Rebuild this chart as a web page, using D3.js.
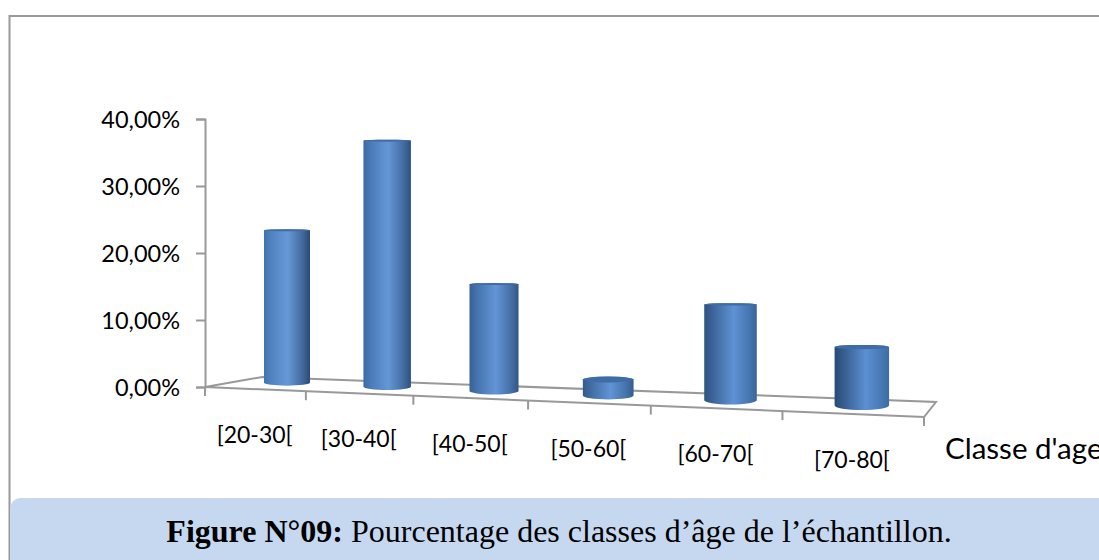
<!DOCTYPE html>
<html><head><meta charset="utf-8">
<script src="https://cdn.jsdelivr.net/npm/d3@7/dist/d3.min.js"></script>
<style>html,body{margin:0;padding:0;background:#fff;overflow:hidden}svg{display:block}</style>
</head><body><svg id="c" width="1099" height="560"></svg>
<script>
const categories = ["[20-30[","[30-40[","[40-50[","[50-60[","[60-70[","[70-80["];
const percentages = [23.3, 36.4, 15.3, 2.2, 12.8, 7.5];
const yTicks = [0, 10, 20, 30, 40];
const axisTitle = "Classe d'age";
const captionBold = "Figure N°09:";
const captionText = " Pourcentage des classes d’âge de l’échantillon.";

const svg = d3.select("#c");
const W = 1099, H = 560, GREY = "#999999";
const locale = d3.formatLocale({decimal:",",thousands:" ",grouping:[3],currency:["","€"]});
const fmt = v => locale.format(".2f")(v) + "%";

// outer frame and caption panel
svg.append("path").attr("d", `M${W+2},16 H9.5 V${H}`).attr("fill","none").attr("stroke",GREY).attr("stroke-width",2);
svg.append("rect").attr("x",10).attr("y",498).attr("width",W).attr("height",80).attr("rx",11).attr("fill","#c5d8f0");
svg.append("text").attr("x",559).attr("y",542).attr("text-anchor","middle")
  .style("font-family","'Liberation Serif',serif").style("font-size","32px").attr("fill","#000")
  .call(t=>{t.append("tspan").attr("font-weight","bold").text(captionBold);t.append("tspan").text(captionText);});

// floor in perspective: front edge and back edge, depth v in 0..1
const BEND = 0.184;
const FL=[205,387], FR=[924,417], BL=[262,377], BR=[936,402];
const band = d3.scaleBand().domain(categories).range([0,1]);
const tOf = u => u*(1-BEND)/(1-BEND*u);
const depth = u => 1/(1-BEND*u);
function floor(u,v){
  const t=tOf(u);
  const fx=FL[0]+(FR[0]-FL[0])*t, fy=FL[1]+(FR[1]-FL[1])*t;
  const bx=BL[0]+(BR[0]-BL[0])*t, by=BL[1]+(BR[1]-BL[1])*t;
  return [fx+(bx-fx)*v, fy+(by-fy)*v];
}
const wallY = d3.scaleLinear().domain([0,40]).range([387,119]);
const barH = d3.scaleLinear().domain([0,40]).range([0,258]);
const BAR_V = 0.6;

// y axis
const gy = svg.append("g").attr("transform","translate(205,0)")
  .call(d3.axisLeft(wallY).tickValues(yTicks).tickFormat(fmt).tickSize(9).tickPadding(16));
gy.select(".domain").attr("stroke",GREY).attr("stroke-width",2);
gy.selectAll("line").attr("stroke",GREY).attr("stroke-width",2);
gy.selectAll("text").style("font-family","Lato,sans-serif").style("font-size","23.5px").attr("fill","#000").attr("x",-25).attr("y",1);

// floor
const floorLine = d3.line();
svg.append("path").attr("d",floorLine([FL,BL,BR,FR,FL])+"").attr("fill","none").attr("stroke",GREY).attr("stroke-width",2);
const edges=[...categories.map(c=>band(c)),1];
svg.selectAll(".xt").data(edges).join("line").attr("class","xt")
  .attr("x1",u=>floor(u,0)[0]).attr("x2",u=>floor(u,0)[0])
  .attr("y1",u=>floor(u,0)[1]).attr("y2",u=>floor(u,0)[1]+9)
  .attr("stroke",GREY).attr("stroke-width",2);

// cylinders
const defs=svg.append("defs");
const leftEdge=d3.scaleLinear().domain([0,1]).range(["#4377b4","#27456f"]);
const rightEdge=d3.scaleLinear().domain([0,1]).range(["#28466f","#3f6fa9"]);
const hi=d3.scaleLinear().domain([0,1]).range(["#689ada","#5b8fd2"]);
categories.forEach((c,i)=>{
  const u=band(c)+band.bandwidth()/2, p=u;
  const g=defs.append("linearGradient").attr("id","g"+i);
  g.append("stop").attr("offset",0).attr("stop-color",leftEdge(p));
  g.append("stop").attr("offset",.12+.1*p).attr("stop-color",d3.interpolateRgb(leftEdge(p),hi(p))(.35));
  g.append("stop").attr("offset",.5+.08*p).attr("stop-color",hi(p));
  g.append("stop").attr("offset",.84).attr("stop-color",d3.interpolateRgb(rightEdge(p),hi(p))(.4));
  g.append("stop").attr("offset",1).attr("stop-color",rightEdge(p));
});
const BAR_W=45.3;
const bars=svg.selectAll(".bar").data(categories.map((c,i)=>({c,i,v:percentages[i]}))).join("g").attr("class","bar");
bars.each(function(d){
  const u=band(d.c)+band.bandwidth()/2;
  const [cx,by]=floor(u,BAR_V), s=depth(u);
  const rx=BAR_W*s/2, h=barH(d.v)*s, ty=by-h;
  const ryB=2.6+2.4*u, ryT=Math.max(1,(ty-250)/45);
  const g=d3.select(this);
  g.append("path").attr("fill",`url(#g${d.i})`)
   .attr("d",`M${cx-rx},${ty} L${cx-rx},${by} A${rx},${ryB} 0 0 0 ${cx+rx},${by} L${cx+rx},${ty} A${rx},${ryT} 0 0 0 ${cx-rx},${ty}Z`);
  g.append("ellipse").attr("cx",cx).attr("cy",ty).attr("rx",rx).attr("ry",ryT).attr("fill","#3f6ca6");
});

// category labels
svg.selectAll(".lab").data(categories).join("text").attr("class","lab")
  .attr("x",c=>floor(band(c)+band.bandwidth()/2,0)[0])
  .attr("y",c=>441+30*tOf(band(c)+band.bandwidth()/2))
  .attr("text-anchor","middle").style("font-family","Lato,sans-serif").style("font-size","23px").attr("fill","#000").text(c=>c);
svg.append("text").attr("x",945).attr("y",459).style("font-family","Lato,sans-serif").style("font-size","29.5px").attr("fill","#000").text(axisTitle);
</script></body></html>
